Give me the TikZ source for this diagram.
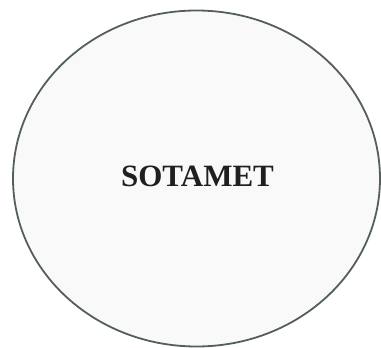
\documentclass[tikz,border=0pt]{standalone}
\usepackage{fontspec}
\setmainfont{Liberation Serif}
\usetikzlibrary{shapes.geometric,positioning}
\definecolor{ovalline}{RGB}{84,94,94}
\definecolor{ovalfill}{RGB}{249,249,249}
\tikzset{
  sota oval/.style={ellipse,draw=ovalline,fill=ovalfill,line width=1.8pt,
    minimum width=367pt,minimum height=336pt,inner sep=0pt},
  sota label/.style={font=\bfseries\fontsize{31}{31}\selectfont,text=black!88,
    inner sep=0pt}
}
\begin{document}
\begin{tikzpicture}[x=1pt,y=1pt]
    \useasboundingbox (0,0) rectangle (381,-348);
    \node[sota oval] (sotamet) at (196.5,-178.5) {};
    \node[sota label] (sotametlabel) at (197.5,-176) {SOTAMET};
  \end{tikzpicture}
\end{document}
